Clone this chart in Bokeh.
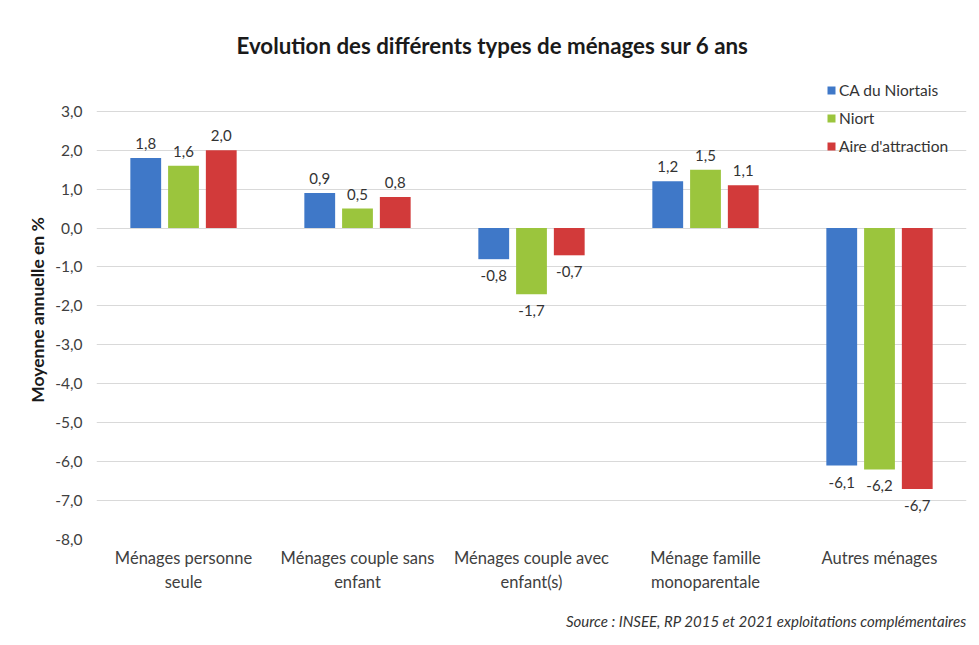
from bokeh.plotting import figure
from bokeh.models import ColumnDataSource, FixedTicker, Legend, Title
from bokeh.core.properties import value
from bokeh.embed import file_html
from bokeh.resources import INLINE

categories = ["Ménages personne\nseule", "Ménages couple sans\nenfant",
              "Ménages couple avec\nenfant(s)", "Ménage famille\nmonoparentale",
              "Autres ménages"]
series_names = ["CA du Niortais", "Niort", "Aire d'attraction"]
ca_niortais = [1.8, 0.9, -0.8, 1.2, -6.1]
niort = [1.6, 0.5, -1.7, 1.5, -6.2]
aire_attraction = [2.0, 0.8, -0.7, 1.1, -6.7]
y_ticks = [3, 2, 1, 0, -1, -2, -3, -4, -5, -6, -7, -8]
colors = ["#3F78C8", "#9BC53D", "#D23A3A"]

FONT = "Lato"

p = figure(width=971, height=645, output_backend="svg", toolbar_location=None,
           x_range=(-0.5, 4.5), y_range=(-8.0, 3.79),
           min_border_left=96, min_border_right=5, min_border_top=80, min_border_bottom=104)
p.outline_line_color = None
p.background_fill_color = "white"
p.border_fill_color = "white"

xs = list(range(len(categories)))
offsets = [-0.217, 0.0, 0.217]
all_series = [ca_niortais, niort, aire_attraction]
renderers = []
for name, vals, off, col in zip(series_names, all_series, offsets, colors):
    xpos = [x + off for x in xs]
    src = ColumnDataSource(dict(x=xpos, top=vals))
    r = p.vbar(x="x", top="top", bottom=0, width=0.177, source=src,
               fill_color=col, line_color=None)
    renderers.append((name, r))
    pos = ColumnDataSource(dict(x=[a for a, v in zip(xpos, vals) if v >= 0],
                                y=[v for v in vals if v >= 0],
                                t=[f"{v:.1f}".replace(".", ",") for v in vals if v >= 0]))
    neg = ColumnDataSource(dict(x=[a for a, v in zip(xpos, vals) if v < 0],
                                y=[v for v in vals if v < 0],
                                t=[f"{v:.1f}".replace(".", ",") for v in vals if v < 0]))
    p.text(x="x", y="y", text="t", source=pos, text_align="center", text_baseline="bottom",
           y_offset=-9, text_font=value(FONT), text_font_size="15px", text_color="#333333")
    p.text(x="x", y="y", text="t", source=neg, text_align="center", text_baseline="top",
           y_offset=11, text_font=value(FONT), text_font_size="15px", text_color="#333333")

legend = Legend(items=[(n, [r]) for n, r in renderers], location=(730, 384))
legend.border_line_color = None
legend.background_fill_alpha = 0
legend.glyph_width = 10
legend.glyph_height = 10
legend.label_height = 16
legend.spacing = 10
legend.padding = 0
legend.margin = 0
legend.label_text_font = FONT
legend.label_text_font_size = "15.5px"
legend.label_text_color = "#333333"
legend.label_standoff = 3
p.add_layout(legend)

# axes
p.xaxis.ticker = FixedTicker(ticks=xs)
p.xaxis.major_label_overrides = {i: c for i, c in enumerate(categories)}
p.yaxis.ticker = FixedTicker(ticks=y_ticks)
p.yaxis.major_label_overrides = {t: f"{t:.1f}".replace(".", ",") for t in y_ticks}
for ax in (p.xaxis, p.yaxis):
    ax.axis_line_color = None
    ax.major_tick_line_color = None
    ax.minor_tick_line_color = None
    ax.major_label_text_font = FONT
    ax.major_label_text_color = "#404040"
p.xaxis.major_label_text_font_size = "16.5px"
p.yaxis.major_label_text_font_size = "15.5px"
p.xaxis.major_label_standoff = 2
p.yaxis.major_label_standoff = 8
p.yaxis.axis_label = "Moyenne annuelle en %"
p.yaxis.axis_label_text_font = FONT
p.yaxis.axis_label_text_font_style = "bold"
p.yaxis.axis_label_text_font_size = "17.5px"
p.yaxis.axis_label_text_color = "#1a1a1a"
p.yaxis.axis_label_standoff = 4

p.xgrid.grid_line_color = None
p.ygrid.grid_line_color = "#d9d9d9"
p.ygrid.grid_line_width = 1

p.title = Title(text="Evolution des différents types de ménages sur 6 ans",
                align="left", offset=140, standoff=44,
                text_font=FONT, text_font_style="bold", text_font_size="22.3px",
                text_color="#1a1a1a")

source_t = Title(text="Source : INSEE, RP 2015 et 2021 exploitations complémentaires",
                 align="right", standoff=31,
                 text_font=FONT, text_font_style="italic", text_font_size="15px",
                 text_color="#333333")
p.add_layout(source_t, "below")

open("out.html", "w").write(file_html(p, INLINE))
